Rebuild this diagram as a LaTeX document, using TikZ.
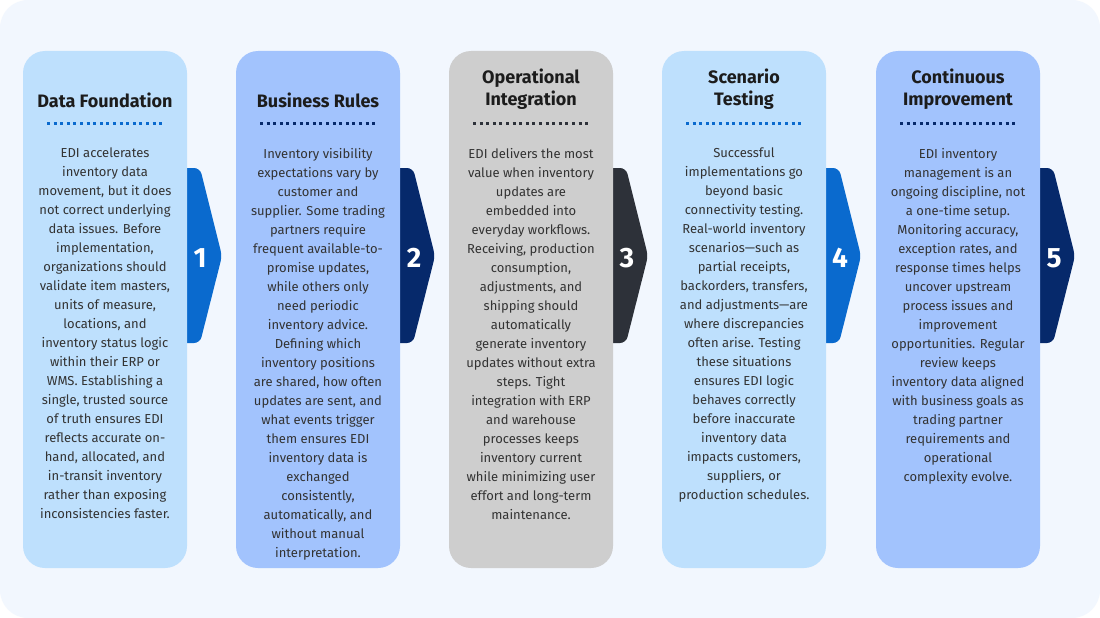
\documentclass[tikz,border=0pt]{standalone}
\usepackage{fontspec}
\setmainfont{Fira Sans}

\definecolor{bgpanel}{HTML}{F2F7FE}
\definecolor{cardsky}{HTML}{BEE0FD}
\definecolor{cardperi}{HTML}{A2C3FD}
\definecolor{cardgray}{HTML}{CECECE}
\definecolor{tabblue}{HTML}{0A6ACE}
\definecolor{tabnavy}{HTML}{06296B}
\definecolor{tabcoal}{HTML}{2D3139}
\definecolor{titleink}{HTML}{1C1C1C}
\definecolor{bodyink}{HTML}{333333}

\begin{document}
\begin{tikzpicture}[x=1pt,y=-1pt,
  card/.style={rounded corners=22pt},
  tab/.style={rounded corners=6pt},
  head/.style={font=\fontsize{18}{22}\selectfont\bfseries, text=titleink, align=center, inner sep=0pt},
  body/.style={font=\fontsize{13}{19}\selectfont, text=bodyink, align=center, inner sep=0pt, anchor=north},
  num/.style={font=\fontsize{28}{28}\selectfont\bfseries, text=white, inner sep=0pt},
  dots/.style={line width=3pt, dash pattern=on 3pt off 3.6pt}]
\useasboundingbox (0,0) rectangle (1100,618);
\fill[white] (0,0) rectangle (1100,618);
\fill[bgpanel, rounded corners=28pt] (0,0) rectangle (1100,618);

\fill[tabblue, tab] (180,168) -- (200,168) -- (222,256) -- (200,343) -- (180,343) -- cycle;
\fill[cardsky, card] (23,51) rectangle (187,568);
\node[num] (num1) at (200,258) {1};
\node[head] (title1) at (105,100) {Data Foundation};
\draw[tabblue, dots] (47,123) -- (163,123);
\node[body] (text1) at (105,148) {EDI accelerates\\inventory data\\movement, but it does\\not correct underlying\\data issues. Before\\implementation,\\organizations should\\validate item masters,\\units of measure,\\locations, and\\inventory status logic\\within their ERP or\\WMS. Establishing a\\single, trusted source\\of truth ensures EDI\\reflects accurate on-\\hand, allocated, and\\in-transit inventory\\rather than exposing\\inconsistencies faster.};

\fill[tabnavy, tab] (393,168) -- (413,168) -- (435,256) -- (413,343) -- (393,343) -- cycle;
\fill[cardperi, card] (236,51) rectangle (400,568);
\node[num] (num2) at (414,258) {2};
\node[head] (title2) at (318,100) {Business Rules};
\draw[tabnavy, dots] (260,123) -- (376,123);
\node[body] (text2) at (318,148) {Inventory visibility\\expectations vary by\\customer and\\supplier. Some trading\\partners require\\frequent available-to-\\promise updates,\\while others only\\need periodic\\inventory advice.\\Defining which\\inventory positions\\are shared, how often\\updates are sent, and\\what events trigger\\them ensures EDI\\inventory data is\\exchanged\\consistently,\\automatically, and\\without manual\\interpretation.};

\fill[tabcoal, tab] (606,168) -- (626,168) -- (648,256) -- (626,343) -- (606,343) -- cycle;
\fill[cardgray, card] (449,51) rectangle (613,568);
\node[num] (num3) at (627,258) {3};
\node[head] (title3) at (531,89) {Operational\\Integration};
\draw[tabcoal, dots] (473,123) -- (589,123);
\node[body] (text3) at (531,148) {EDI delivers the most\\value when inventory\\updates are\\embedded into\\everyday workflows.\\Receiving, production\\consumption,\\adjustments, and\\shipping should\\automatically\\generate inventory\\updates without extra\\steps. Tight\\integration with ERP\\and warehouse\\processes keeps\\inventory current\\while minimizing user\\effort and long-term\\maintenance.};

\fill[tabblue, tab] (819,168) -- (839,168) -- (861,256) -- (839,343) -- (819,343) -- cycle;
\fill[cardsky, card] (662,51) rectangle (826,568);
\node[num] (num4) at (840,258) {4};
\node[head] (title4) at (744,89) {Scenario\\Testing};
\draw[tabblue, dots] (686,123) -- (802,123);
\node[body] (text4) at (744,148) {Successful\\implementations go\\beyond basic\\connectivity testing.\\Real-world inventory\\scenarios—such as\\partial receipts,\\backorders, transfers,\\and adjustments—are\\where discrepancies\\often arise. Testing\\these situations\\ensures EDI logic\\behaves correctly\\before inaccurate\\inventory data\\impacts customers,\\suppliers, or\\production schedules.};

\fill[tabnavy, tab] (1033,168) -- (1053,168) -- (1075,256) -- (1053,343) -- (1033,343) -- cycle;
\fill[cardperi, card] (876,51) rectangle (1040,568);
\node[num] (num5) at (1054,258) {5};
\node[head] (title5) at (958,89) {Continuous\\Improvement};
\draw[tabnavy, dots] (900,123) -- (1016,123);
\node[body] (text5) at (958,148) {EDI inventory\\management is an\\ongoing discipline, not\\a one-time setup.\\Monitoring accuracy,\\exception rates, and\\response times helps\\uncover upstream\\process issues and\\improvement\\opportunities. Regular\\review keeps\\inventory data aligned\\with business goals as\\trading partner\\requirements and\\operational\\complexity evolve.};
\end{tikzpicture}
\end{document}
